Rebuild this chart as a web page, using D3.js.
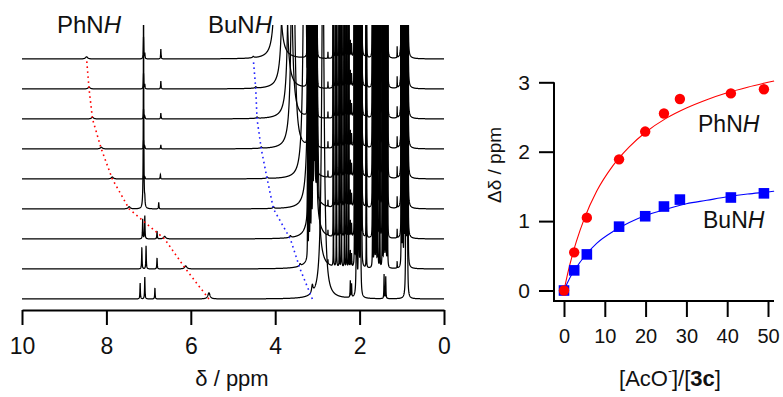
<!DOCTYPE html>
<html>
<head>
<meta charset="utf-8">
<script src="https://cdn.jsdelivr.net/npm/d3@7/dist/d3.min.js"></script>
<style>
  body { margin: 0; background: #fff; }
  svg { display: block; font-family: "Liberation Sans", Arial, sans-serif; }
</style>
</head>
<body>
<svg id="fig" width="783" height="397"></svg>
<script>
// titration: [AcO-]/[3c] and shift changes
const ratio = [0, 2.5, 5.6, 13.5, 19.9, 24.5, 28.4, 40.9, 49.0];
const dPhNH = [0, 0.55, 1.05, 1.89, 2.29, 2.55, 2.76, 2.84, 2.90];
const dBuNH = [0, 0.29, 0.52, 0.92, 1.07, 1.21, 1.31, 1.34, 1.40];

// fitted curves
const fitX  = [0, 1, 2, 3, 5, 8, 12, 16, 20, 25, 30, 35, 40, 45, 50, 51.5];
const fitPh = [0, 0.27, 0.50, 0.70, 1.04, 1.43, 1.80, 2.07, 2.28, 2.48, 2.63, 2.75, 2.85, 2.93, 3.00, 3.02];
const fitBu = [0, 0.13, 0.24, 0.33, 0.49, 0.68, 0.85, 0.98, 1.08, 1.17, 1.25, 1.30, 1.35, 1.39, 1.42, 1.43];

const ppmTicks = [10, 8, 6, 4, 2, 0];
const ratioTicks = [0, 10, 20, 30, 40, 50];
const deltaTicks = [0, 1, 2, 3];

// 1H NMR spectra, index 0 = bottom (free host), one per titration point
const phNH0 = 5.57;
const buNH0 = 3.12;
const phInt = [0.28, 0.14, 0.12, 0.1, 0.09, 0.08, 0.08, 0.08, 0.1];
const buInt = [0.36, 0.1, 0.08, 0.07, 0.06, 0.06, 0.06, 0.06, 0.06];
const waterPpm = [2.87, 3.03, 3.10, 3.18, 3.30, 3.58, 3.65, 3.78, 3.95];
const aroPpm = [
  [7.20, 7.09, 6.85], [7.16, 7.06, 6.80], [7.14, 7.09, 6.80],
  [7.12, 7.09, 6.76], [7.12, 7.09, 6.72], [7.12, 7.09, 6.71],
  [7.12, 7.09, 6.71], [7.12, 7.09, 6.71], [7.12, 7.09, 6.71]
];
const aroInt = [
  [0.72, 1.0, 0.5], [0.95, 1.05, 0.5], [0.9, 1.05, 0.36],
  [10, 0.3, 0.3], [0.15, 0.1, 0.2], [0.4, 0.12, 0.18],
  [0.45, 0.12, 0.27], [0.7, 0.2, 0.36], [1.0, 0.25, 0.45]
];
// host aliphatic lines [ppm, intensity]
const hostPeaks = [
  [2.22, 0.75], [2.19, 0.6], [2.07, 16], [2.02, 16], [1.98, 14],
  [1.42, 1.1], [1.38, 1.0], [0.90, 16], [0.87, 12]
];
// Bu4N+ / AcO- lines [ppm, intensity per level]
const tbaPeaks = [
  [3.23, 3], [3.20, 5], [3.17, 5], [3.14, 5], [3.11, 4], [3.06, 3], [3.01, 3],
  [2.75, 0.06], [2.62, 2], [2.55, 3], [2.48, 1.5], [2.43, 3], [2.36, 2], [2.31, 2],
  [2.26, 1.5], [2.12, 3], [2.04, 2], [1.95, 4], [1.84, 2],
  [1.69, 4], [1.65, 6], [1.61, 6], [1.57, 4], [1.52, 2], [1.46, 4], [1.42, 6],
  [1.38, 6], [1.34, 4], [1.11, 0.1], [1.01, 5], [0.98, 8], [0.94, 8], [0.90, 5], [0.85, 2]
];
const tbaLevel = [0, 3, 4, 5, 5, 5, 5, 5, 5];

const svg = d3.select('#fig');
const font = '"Liberation Sans", Arial, sans-serif';

// ---------- left panel: stacked spectra ----------
const x = d3.scaleLinear().domain([10, 0]).range([22, 444]);
const row = d3.scalePoint().domain(d3.range(ratio.length)).range([299, 59]);
const amp = d3.scaleLinear().domain([0, 1]).range([0, 22]);

svg.append('defs').append('clipPath').attr('id', 'specClip')
  .append('rect').attr('x', 0).attr('y', 25).attr('width', 470).attr('height', 300);

function peaksFor(i) {
  const list = [];
  aroPpm[i].forEach((p, k) => list.push([p, aroInt[i][k], 0.006]));
  list.push([phNH0 + dPhNH[i], phInt[i], 0.03]);
  list.push([buNH0 + dBuNH[i], buInt[i], 0.02]);
  list.push([waterPpm[i], 16, 0.035]);
  hostPeaks.forEach(d => list.push([d[0], d[1], 0.005]));
  if (tbaLevel[i] > 0) tbaPeaks.forEach(d => list.push([d[0], d[1] * tbaLevel[i], 0.0025]));
  return list;
}

const line = d3.line().x(d => d[0]).y(d => d[1]);
const specG = svg.append('g').attr('clip-path', 'url(#specClip)');

ratio.forEach((r, i) => {
  const peaks = peaksFor(i);
  const grid = d3.range(x(10), x(0), 0.15);
  peaks.forEach(p => grid.push(x(p[0])));
  grid.push(x(0));
  grid.sort((a, b) => a - b);
  const pts = grid.map(px => {
    const ppm = x.invert(px);
    let s = 0;
    for (const p of peaks) {
      const d = (ppm - p[0]) / p[2];
      s += p[1] / (1 + d * d);
    }
    return [px, Math.max(-20, row(i) - amp(s))];
  });
  specG.append('path').attr('d', line(pts))
    .attr('fill', 'none').attr('stroke', '#000').attr('stroke-width', 1.25);
});

// dotted guides following the NH signals
const dotLine = d3.line().x(d => d[0]).y(d => d[1]);
svg.append('path')
  .attr('d', dotLine(ratio.map((r, i) => [x(phNH0 + dPhNH[i]), row(i)])))
  .attr('fill', 'none').attr('stroke', '#ff0000').attr('stroke-width', 1.6)
  .attr('stroke-dasharray', '1.6 3.4');
svg.append('path')
  .attr('d', dotLine(ratio.map((r, i) => [x(buNH0 + dBuNH[i]), row(i)])))
  .attr('fill', 'none').attr('stroke', '#2020ff').attr('stroke-width', 1.6)
  .attr('stroke-dasharray', '1.6 3.4');

const gx = svg.append('g').attr('transform', 'translate(0,310)')
  .call(d3.axisBottom(x).tickValues(ppmTicks).tickSize(15).tickSizeOuter(0).tickPadding(13));
gx.selectAll('path, line').attr('stroke', '#000').attr('stroke-width', 2);
gx.selectAll('text').attr('font-size', 23).attr('font-family', font).attr('fill', '#111');

svg.append('text').attr('x', 232).attr('y', 386).attr('text-anchor', 'middle')
  .attr('font-size', 22).attr('fill', '#111').text('δ / ppm');

function nhLabel(g, px, py, size, first) {
  const t = g.append('text').attr('x', px).attr('y', py).attr('font-size', size).attr('fill', '#111');
  t.append('tspan').text(first);
  t.append('tspan').attr('font-style', 'italic').text('H');
}
nhLabel(svg, 57, 33, 24, 'PhN');
nhLabel(svg, 208, 33, 24, 'BuN');

// ---------- right panel: titration curves ----------
const xr = d3.scaleLinear().domain([0, 50]).range([564, 768]);
const yr = d3.scaleLinear().domain([0, 3]).range([290.5, 82.3]);

const gxr = svg.append('g').attr('transform', 'translate(0,301)')
  .call(d3.axisBottom(xr).tickValues(ratioTicks).tickSize(16).tickSizeOuter(0).tickPadding(12));
gxr.select('.domain').attr('d', 'M554,0H774');
gxr.selectAll('path, line').attr('stroke', '#000').attr('stroke-width', 2);
gxr.selectAll('text').attr('font-size', 20).attr('font-family', font).attr('fill', '#111');

const gyr = svg.append('g').attr('transform', 'translate(554,0)')
  .call(d3.axisLeft(yr).tickValues(deltaTicks).tickFormat(d3.format('d'))
    .tickSize(15).tickSizeOuter(0).tickPadding(9));
gyr.select('.domain').attr('d', 'M0,' + yr(3) + 'V302');
gyr.selectAll('path, line').attr('stroke', '#000').attr('stroke-width', 2);
gyr.selectAll('text').attr('font-size', 21).attr('font-family', font).attr('fill', '#111');

svg.append('text').attr('transform', 'translate(501,165) rotate(-90)')
  .attr('text-anchor', 'middle').attr('font-size', 19).attr('fill', '#111').text('Δδ / ppm');

const xt = svg.append('text').attr('x', 670).attr('y', 386).attr('text-anchor', 'middle')
  .attr('font-size', 22).attr('fill', '#111');
xt.append('tspan').text('[AcO');
xt.append('tspan').attr('dy', -11).attr('font-size', 12).text('-');
xt.append('tspan').attr('dy', 11).text(']/[');
xt.append('tspan').attr('font-weight', 'bold').text('3c');
xt.append('tspan').text(']');

const fitLine = d3.line().x((d, i) => xr(fitX[i])).y(d => yr(d)).curve(d3.curveMonotoneX);
svg.append('path').attr('d', fitLine(fitPh)).attr('fill', 'none').attr('stroke', '#ff0000').attr('stroke-width', 1.1);
svg.append('path').attr('d', fitLine(fitBu)).attr('fill', 'none').attr('stroke', '#0000ff').attr('stroke-width', 1.1);

svg.append('g').selectAll('rect').data(dBuNH).join('rect')
  .attr('x', (d, i) => xr(ratio[i]) - 5.3).attr('y', d => yr(d) - 5.3)
  .attr('width', 10.6).attr('height', 10.6).attr('fill', '#0000ff');
svg.append('g').selectAll('circle').data(dPhNH).join('circle')
  .attr('cx', (d, i) => xr(ratio[i])).attr('cy', d => yr(d)).attr('r', 5.2).attr('fill', '#ff0000');

nhLabel(svg, 698, 132, 23, 'PhN');
nhLabel(svg, 703, 228, 23, 'BuN');
</script>
</body>
</html>
